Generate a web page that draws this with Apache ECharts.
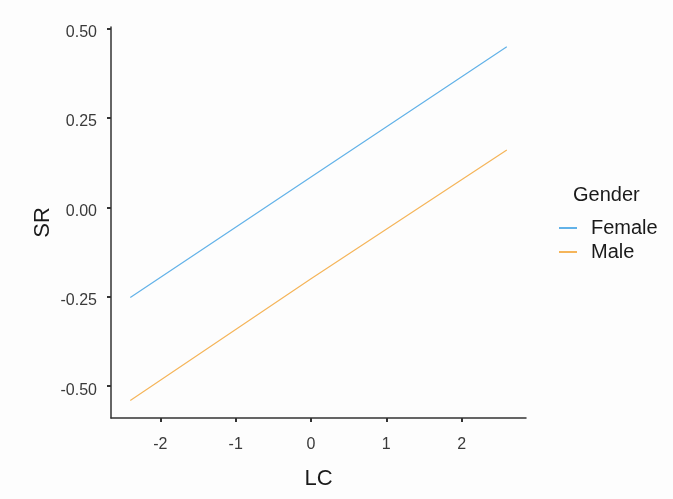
<!DOCTYPE html>
<html>
<head>
<meta charset="utf-8">
<script src="https://cdn.jsdelivr.net/npm/echarts@6/dist/echarts.min.js"></script>
<style>
  html, body { margin: 0; padding: 0; background: #fdfdfd; }
  #chart { width: 673px; height: 499px; }
</style>
</head>
<body>
<div id="chart"></div>
<script>
// Predicted SR across LC, one line per gender
const lcValues = [-2.4, 0, 2.6];
const femaleSR = [-0.252, 0.085, 0.449];
const maleSR = [-0.540, -0.200, 0.160];
const xTicks = [-2, -1, 0, 1, 2];
const yTicks = [-0.5, -0.25, 0, 0.25, 0.5];
const genders = ['Female', 'Male'];

const FONT = '"Liberation Sans", Arial, sans-serif';
const toPairs = (xs, ys) => xs.map((x, i) => [x, ys[i]]);

const chart = echarts.init(document.getElementById('chart'), null, { renderer: 'canvas' });
chart.setOption({
  backgroundColor: '#fdfdfd',
  animation: false,
  title: {
    text: 'Gender',
    left: 573,
    top: 185,
    padding: 0,
    textStyle: { fontFamily: FONT, fontSize: 20, fontWeight: 'normal', color: '#1a1a1a', lineHeight: 20 }
  },
  legend: {
    data: genders,
    orient: 'vertical',
    left: 559,
    top: 218,
    padding: 0,
    itemGap: 4,
    itemWidth: 18,
    itemHeight: 2,
    icon: 'rect',
    textStyle: { fontFamily: FONT, fontSize: 20, color: '#1a1a1a', lineHeight: 20, padding: [0, 0, 0, 9] }
  },
  grid: { left: 111, right: 147, top: 27, bottom: 81, containLabel: false },
  xAxis: {
    type: 'value',
    min: -2.656,
    max: 2.855,
    name: 'LC',
    nameLocation: 'middle',
    nameGap: 50,
    nameTextStyle: { fontFamily: FONT, fontSize: 22, color: '#1a1a1a' },
    splitLine: { show: false },
    axisLine: { show: true, onZero: false, lineStyle: { color: '#333', width: 1.5 } },
    axisTick: { show: true, length: 4, customValues: xTicks, lineStyle: { color: '#333', width: 2 } },
    axisLabel: {
      customValues: xTicks,
      margin: 19,
      fontFamily: FONT, fontSize: 16, color: '#3a3a3a',
      formatter: v => String(v)
    }
  },
  yAxis: {
    type: 'value',
    min: -0.589,
    max: 0.504,
    name: 'SR',
    nameLocation: 'middle',
    nameGap: 57,
    nameMoveOverlap: false,
    nameRotate: 90,
    nameTextStyle: { fontFamily: FONT, fontSize: 22, color: '#1a1a1a' },
    splitLine: { show: false },
    axisLine: { show: true, onZero: false, lineStyle: { color: '#333', width: 1.5 } },
    axisTick: { show: true, length: 4, customValues: yTicks, lineStyle: { color: '#333', width: 2 } },
    axisLabel: {
      customValues: yTicks,
      margin: 14,
      fontFamily: FONT, fontSize: 16, color: '#3a3a3a',
      formatter: v => '{v|' + v.toFixed(2) + '}',
      rich: { v: { fontFamily: FONT, fontSize: 16, color: '#3a3a3a', padding: [8, 0, 0, 0] } }
    }
  },
  series: [
    {
      name: genders[0], type: 'line', data: toPairs(lcValues, femaleSR),
      showSymbol: false, symbol: 'none',
      lineStyle: { color: '#62b2e8', width: 1.2 }, itemStyle: { color: '#62b2e8' }
    },
    {
      name: genders[1], type: 'line', data: toPairs(lcValues, maleSR),
      showSymbol: false, symbol: 'none',
      lineStyle: { color: '#f5b55a', width: 1.2 }, itemStyle: { color: '#f5b55a' }
    }
  ]
});
</script>
</body>
</html>
